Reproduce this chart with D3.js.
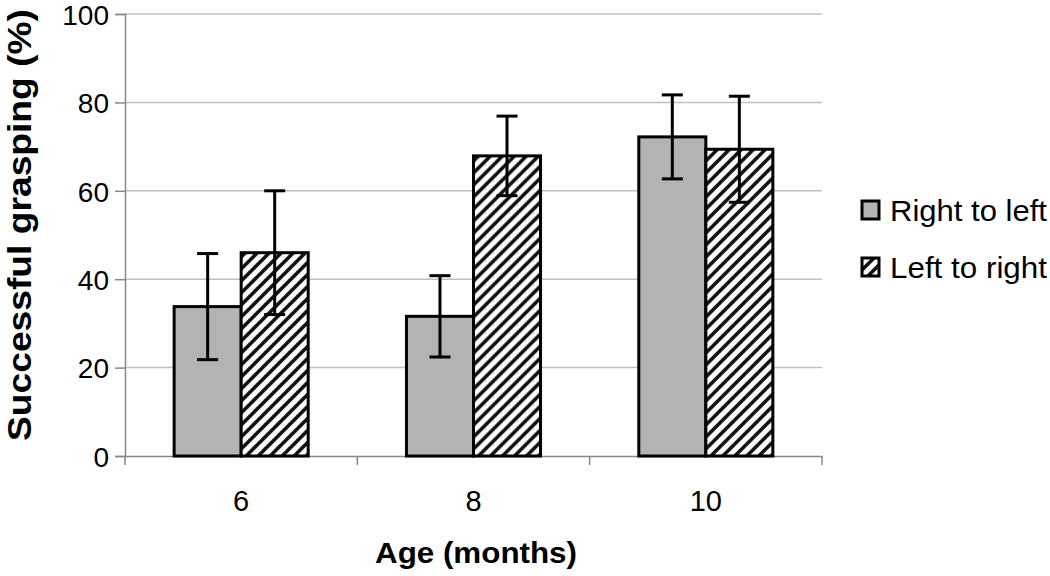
<!DOCTYPE html>
<html><head><meta charset="utf-8">
<script src="https://cdn.jsdelivr.net/npm/d3@7"></script>
<style>body{margin:0;background:#fff}svg{display:block}text{font-family:Arial,"Liberation Sans",sans-serif}</style>
</head><body>
<svg id="c" width="1050" height="576"></svg>
<script>
const categories = ["6", "8", "10"];
const seriesNames = ["Right to left", "Left to right"];
const rightToLeft = [33.8, 31.6, 72.2];
const leftToRight = [46.0, 67.9, 69.4];
const rightToLeftErr = [12.0, 9.2, 9.5];
const leftToRightErr = [14.0, 9.0, 12.0];
const yTicks = [0, 20, 40, 60, 80, 100];

const svg = d3.select("#c");
const L = 125, R = 822, T = 14, B = 456;
const y = d3.scaleLinear().domain([0, 100]).range([B, T]);
const x = d3.scaleBand().domain(categories).range([L, R]).paddingInner(0.423).paddingOuter(0.2115);
const xs = d3.scaleBand().domain(seriesNames).range([0, x.bandwidth()]);

const defs = svg.append("defs");
const pat = defs.append("pattern").attr("id", "hatch").attr("patternUnits", "userSpaceOnUse")
  .attr("width", 12).attr("height", 12);
pat.append("rect").attr("width", 12).attr("height", 12).attr("fill", "#fff");
pat.append("path").attr("d", "M-3,3 L3,-3 M0,12 L12,0 M9,15 L15,9")
  .attr("stroke", "#111").attr("stroke-width", 3.6);

// gridlines
svg.append("g").selectAll("line").data(yTicks.filter(d => d > 0)).join("line")
  .attr("x1", L).attr("x2", R).attr("y1", d => y(d)).attr("y2", d => y(d))
  .attr("stroke", "#c0c0c0").attr("stroke-width", 1.5);

// y axis
const yAxis = svg.append("g").attr("transform", `translate(${L},0)`)
  .call(d3.axisLeft(y).tickValues(yTicks).tickSize(10).tickPadding(6).tickFormat(d3.format("d")));
yAxis.select(".domain").attr("stroke", "#888").attr("stroke-width", 1.5);
yAxis.selectAll(".tick line").attr("stroke", "#888").attr("stroke-width", 1.5);
yAxis.selectAll("text").attr("font-size", 28).attr("fill", "#000").attr("dy", "0.37em")
  .attr("font-family", "Arial, 'Liberation Sans', sans-serif");

// x axis
const xAxis = svg.append("g").attr("transform", `translate(0,${B})`)
  .call(d3.axisBottom(x).tickSize(0).tickPadding(34));
xAxis.select(".domain").attr("stroke", "#888").attr("stroke-width", 1.5);
xAxis.selectAll("text").attr("font-size", 29).attr("fill", "#000").attr("font-family", "Arial, 'Liberation Sans', sans-serif");
const bounds = categories.map(c => x(c) - x.step() * x.paddingInner() / 2).concat([R]);
xAxis.append("g").selectAll("line").data(bounds).join("line")
  .attr("x1", d => d).attr("x2", d => d).attr("y1", 0).attr("y2", 9)
  .attr("stroke", "#888").attr("stroke-width", 1.5);

// bars
const data = categories.map((c, i) => ({
  cat: c,
  vals: [
    {s: seriesNames[0], v: rightToLeft[i], e: rightToLeftErr[i], fill: "#b3b3b3"},
    {s: seriesNames[1], v: leftToRight[i], e: leftToRightErr[i], fill: "url(#hatch)"}
  ]
}));
const groups = svg.append("g").selectAll("g").data(data).join("g")
  .attr("transform", d => `translate(${x(d.cat)},0)`);
groups.selectAll("rect").data(d => d.vals).join("rect")
  .attr("x", d => xs(d.s)).attr("width", xs.bandwidth())
  .attr("y", d => y(d.v)).attr("height", d => y(0) - y(d.v))
  .attr("fill", d => d.fill).attr("stroke", "#000").attr("stroke-width", 3);

// error bars
const eb = groups.selectAll("g.err").data(d => d.vals).join("g").attr("class", "err")
  .attr("transform", d => `translate(${xs(d.s) + xs.bandwidth() / 2},0)`);
eb.append("line").attr("x1", 0).attr("x2", 0).attr("y1", d => y(d.v + d.e)).attr("y2", d => y(d.v - d.e))
  .attr("stroke", "#000").attr("stroke-width", 3);
eb.append("line").attr("x1", -10.5).attr("x2", 10.5).attr("y1", d => y(d.v + d.e)).attr("y2", d => y(d.v + d.e))
  .attr("stroke", "#000").attr("stroke-width", 3);
eb.append("line").attr("x1", -10.5).attr("x2", 10.5).attr("y1", d => y(d.v - d.e)).attr("y2", d => y(d.v - d.e))
  .attr("stroke", "#000").attr("stroke-width", 3);

// axis titles
svg.append("text").attr("x", 476).attr("y", 563).attr("text-anchor", "middle")
  .attr("font-size", 30).attr("font-weight", "bold")
  .attr("textLength", 202).attr("lengthAdjust", "spacingAndGlyphs").text("Age (months)");
svg.append("text").attr("transform", "translate(31,225) rotate(-90)").attr("text-anchor", "middle")
  .attr("font-size", 34).attr("font-weight", "bold")
  .attr("textLength", 432).attr("lengthAdjust", "spacingAndGlyphs").text("Successful grasping (%)");

// legend
const leg = svg.append("g").selectAll("g").data(seriesNames).join("g")
  .attr("transform", (d, i) => `translate(862,${201 + i * 57})`);
leg.append("rect").attr("width", 17).attr("height", 18)
  .attr("fill", (d, i) => i === 0 ? "#b3b3b3" : "url(#hatch)").attr("stroke", "#000").attr("stroke-width", 3);
leg.append("text").attr("x", 28).attr("y", 20).attr("font-size", 30)
  .attr("textLength", 157).attr("lengthAdjust", "spacingAndGlyphs").text(d => d);
</script>
</body></html>
